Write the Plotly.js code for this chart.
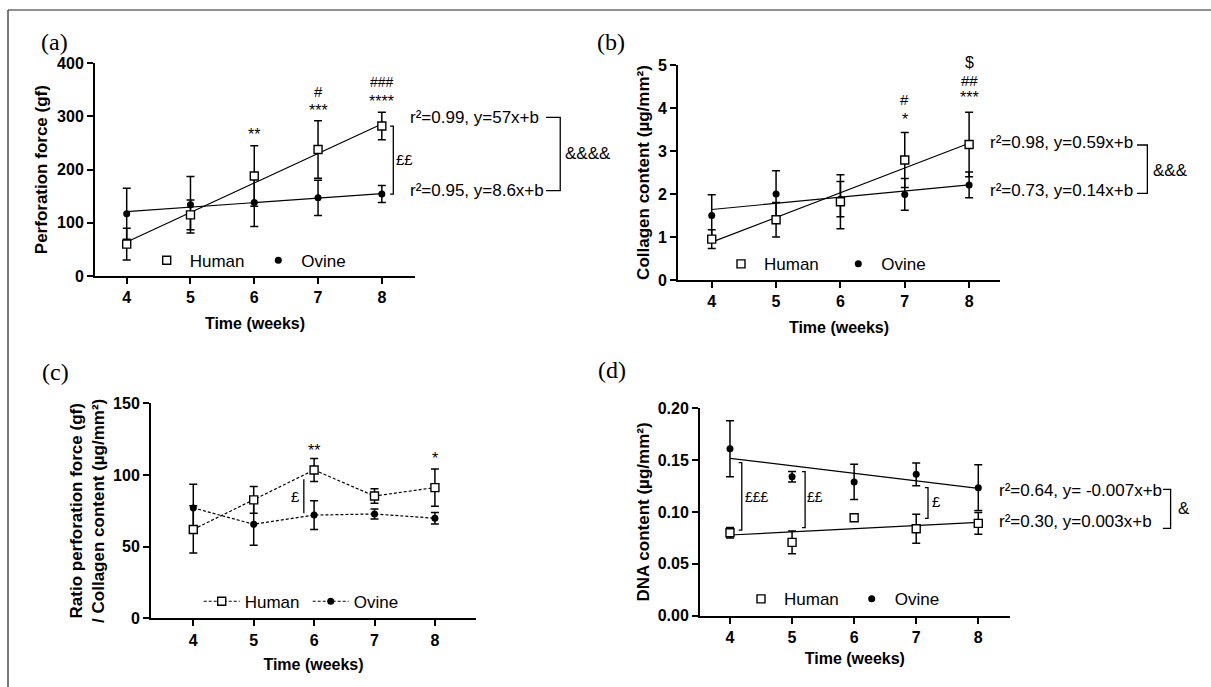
<!DOCTYPE html>
<html><head><meta charset="utf-8">
<script src="https://cdn.plot.ly/plotly-3.0.1.min.js"></script>
<style>html,body{margin:0;padding:0;background:#fff;} #chart{width:1211px;height:687px;}</style>
</head><body><div id="chart"></div>
<script>
// ---------------- data ----------------
const weeks = [4, 5, 6, 7, 8];
const fitX = [4, 8];
const seriesNames = ['Human', 'Ovine'];
const xTitle = 'Time (weeks)';

// (a) Perforation force (gf)
const forceHuman = [60, 115, 188, 238, 282];
const forceHumanErr = [30, 28, 57, 54, 26];
const forceOvine = [117, 134, 138, 147, 154];
const forceOvineErr = [48, 53, 45, 33, 16];
const forceFitHuman = [64, 286];
const forceFitOvine = [121, 155];

// (b) Collagen content (µg/mm²)
const collHuman = [0.95, 1.40, 1.82, 2.79, 3.15];
const collHumanErr = [0.22, 0.40, 0.63, 0.64, 0.75];
const collOvine = [1.50, 2.00, 1.88, 1.99, 2.21];
const collOvineErr = [0.48, 0.54, 0.41, 0.37, 0.30];
const collFitHuman = [0.88, 3.18];
const collFitOvine = [1.64, 2.21];

// (c) Ratio perforation force / collagen content
const ratioHuman = [62, 82.6, 103.5, 85.3, 91.2];
const ratioHumanErr = [16.5, 9.3, 8, 5, 13];
const ratioOvine = [77, 65.6, 72, 72.8, 69.8];
const ratioOvineErr = [16.5, 14.7, 10, 3.5, 4];

// (d) DNA content (µg/mm²)
const dnaHuman = [0.080, 0.0707, 0.0945, 0.0839, 0.089];
const dnaHumanErr = [0.005, 0.011, 0.002, 0.014, 0.0105];
const dnaOvine = [0.161, 0.134, 0.129, 0.1363, 0.1235];
const dnaOvineErr = [0.027, 0.005, 0.017, 0.011, 0.022];
const dnaFitHuman = [0.0778, 0.090];
const dnaFitOvine = [0.1518, 0.1228];

// ---------------- layout helpers ----------------
const W = 1211, H = 687;
const FONT = 'Liberation Sans, Arial, sans-serif';
const SERIF = 'Liberation Serif, Times New Roman, serif';
const P = {
  a: {n:'',  px:[95,415],    py:[63.3,276],   xr:[3.503,8.52], yr:[0,400], xs:13, ys:5},
  b: {n:'2', px:[678,1000],  py:[65,280],     xr:[3.476,8.48], yr:[0,5],   xs:13, ys:4},
  c: {n:'3', px:[151,476],   py:[403.3,618.3],xr:[3.30,8.68],  yr:[0,150], xs:11, ys:4},
  d: {n:'4', px:[700,1009.7],py:[408.3,615.7],xr:[3.517,8.506],yr:[0,0.2], xs:8,  ys:4}
};
function dxf(p, v){ const r = P[p].xr; return (v - r[0]) / (r[1] - r[0]); }
function dyf(p, v){ const r = P[p].yr; return (v - r[0]) / (r[1] - r[0]); }
function paperX(p, v){ const c = P[p]; return (c.px[0] + dxf(p, v) * (c.px[1] - c.px[0])) / W; }
function paperY(p, v){ const c = P[p]; return 1 - (c.py[1] - dyf(p, v) * (c.py[1] - c.py[0])) / H; }

const traces = [];
function fitTrace(p, y){
  traces.push({x: fitX, y: y, mode:'lines', line:{color:'#000', width:1.2},
    xaxis:'x'+P[p].n, yaxis:'y'+P[p].n, showlegend:false, hoverinfo:'skip'});
}
function seriesTrace(p, y, err, idx, lines){
  const human = idx === 0;
  traces.push({
    x: weeks, y: y, name: seriesNames[idx],
    mode: lines ? 'lines+markers' : 'markers',
    line: {color:'#000', width:1.2, dash:'3px,2px'},
    marker: human ? {symbol:'square', size:8, color:'#fff', line:{color:'#000', width:1.4}}
                  : {symbol:'circle', size:7, color:'#000', line:{color:'#000', width:0}},
    error_y: {type:'data', array: err, visible:true, color:'#000', thickness:1.5, width:4},
    xaxis:'x'+P[p].n, yaxis:'y'+P[p].n,
    legend: 'legend'+P[p].n, legendrank: idx+1, hoverinfo:'x+y'
  });
}

fitTrace('a', forceFitHuman); fitTrace('a', forceFitOvine);
seriesTrace('a', forceOvine, forceOvineErr, 1); seriesTrace('a', forceHuman, forceHumanErr, 0);
fitTrace('b', collFitHuman); fitTrace('b', collFitOvine);
seriesTrace('b', collOvine, collOvineErr, 1); seriesTrace('b', collHuman, collHumanErr, 0);
seriesTrace('c', ratioOvine, ratioOvineErr, 1, true); seriesTrace('c', ratioHuman, ratioHumanErr, 0, true);
fitTrace('d', dnaFitHuman); fitTrace('d', dnaFitOvine);
seriesTrace('d', dnaOvine, dnaOvineErr, 1); seriesTrace('d', dnaHuman, dnaHumanErr, 0);

const layout = {
  width: W, height: H, margin:{l:0,r:0,t:0,b:0},
  paper_bgcolor:'#fff', plot_bgcolor:'rgba(0,0,0,0)',
  font:{family:FONT, color:'#000'},
  showlegend:true, annotations:[], shapes:[]
};

const yTitles = {
  a: 'Perforation force (gf)',
  b: 'Collagen content (µg/mm²)',
  c: 'Ratio perforation force (gf)<br>/ Collagen content (µg/mm²)',
  d: 'DNA content (µg/mm²)'
};
const yTicks = {
  a: {tickvals:[0,100,200,300,400]},
  b: {tickvals:[0,1,2,3,4,5]},
  c: {tickvals:[0,50,100,150]},
  d: {tickvals:[0,0.05,0.10,0.15,0.20], tickformat:'.2f'}
};
const axBase = {showline:true, linewidth:2, linecolor:'#000', ticks:'outside', ticklen:6, tickwidth:2,
  tickcolor:'#000', showgrid:false, zeroline:false, fixedrange:true,
  tickfont:{family:FONT, size:16, color:'#000', weight:'bold'}};

for (const p of ['a','b','c','d']){
  const c = P[p];
  layout['xaxis'+c.n] = Object.assign({}, axBase, {
    domain:[c.px[0]/W, c.px[1]/W], range:c.xr, anchor:'y'+c.n, tickvals: weeks,
    title:{text:xTitle, font:{family:FONT, size:16, color:'#000', weight:'bold'}, standoff:c.xs}
  });
  layout['yaxis'+c.n] = Object.assign({}, axBase, yTicks[p], {
    domain:[1 - c.py[1]/H, 1 - c.py[0]/H], range:c.yr, anchor:'x'+c.n,
    title:{text:yTitles[p], font:{family:FONT, size:17, color:'#000', weight:'bold'}, standoff:c.ys}
  });
}

// legends (marker centre px, row centre px, entry width)
const legPos = {a:[166.7,260.7,60.6], b:[741,264.3,66.3], c:[221.7,601.7,58], d:[761,599.3,59.7]};
for (const p of ['a','b','c','d']){
  const lp = legPos[p];
  layout['legend'+P[p].n] = {x:(lp[0]-23)/W, y:1-lp[1]/H, xanchor:'left', yanchor:'middle',
    orientation:'h', itemwidth:36, entrywidth:lp[2], entrywidthmode:'pixels', bgcolor:'rgba(0,0,0,0)',
    font:{family:FONT, size:17, color:'#000'}, itemclick:false, itemdoubleclick:false};
}

function ann(p, x, y, text, size, extra){
  layout.annotations.push(Object.assign({xref:'paper', yref:'paper', x:paperX(p, x), y:paperY(p, y), text:text,
    showarrow:false, xanchor:'center', yanchor:'middle', font:{family:FONT, size:size, color:'#000'}}, extra||{}));
}
function bracket(p, x, y0, y1, hook){
  const xr = 'x'+P[p].n+' domain', yr = 'y'+P[p].n+' domain';
  const X = dxf(p, x), Y0 = dyf(p, y0), Y1 = dyf(p, y1);
  let path;
  if (hook){ const Xh = dxf(p, x - hook); path = `M${Xh},${Y0} L${X},${Y0} L${X},${Y1} L${Xh},${Y1}`; }
  else path = `M${X},${Y0} L${X},${Y1}`;
  layout.shapes.push({type:'path', xref:xr, yref:yr, path:path, line:{color:'#000', width:1.3}});
}

// significance marks
ann('a',6,272.7,'**',16,{yshift:-4}); ann('a',7,318.5,'***',16,{yshift:-4}); ann('a',7,346.7,'#',15);
ann('a',8,335,'****',16,{yshift:-4}); ann('a',8,364,'###',14);
ann('b',7,3.82,'*',16,{yshift:-4}); ann('b',7,4.19,'#',15); ann('b',8,4.34,'***',16,{yshift:-4});
ann('b',8,4.63,'##',15); ann('b',8,5.06,'$',16);
ann('c',6,120.2,'**',16,{yshift:-4}); ann('c',8,114.4,'*',16,{yshift:-4});

// £ brackets
bracket('a', 8.18, 282, 154, 0.05); ann('a', 8.36, 219, '££', 15);
bracket('c', 5.83, 97, 73.3, 0); ann('c', 5.70, 85.3, '£', 15);
bracket('d', 4.19, 0.1476, 0.0826, 0.05); ann('d', 4.44, 0.1148, '£££', 14);
bracket('d', 5.21, 0.1389, 0.0849, 0.05); ann('d', 5.37, 0.1148, '££', 14);
bracket('d', 7.19, 0.1235, 0.0939, 0.05); ann('d', 7.33, 0.1106, '£', 15);

// regression texts
ann('a', 8.41, 298.4, 'r²=0.99, y=57x+b', 17, {xanchor:'left'});
ann('a', 8.41, 160.4, 'r²=0.95, y=8.6x+b', 17, {xanchor:'left'});
bracket('a', 10.797, 298.4, 160.4, 0.224); ann('a', 10.84, 230.7, '&&&&', 17, {xanchor:'left'});
ann('b', 8.295, 3.193, 'r²=0.98, y=0.59x+b', 17, {xanchor:'left'});
ann('b', 8.295, 2.07, 'r²=0.73, y=0.14x+b', 17, {xanchor:'left'});
bracket('b', 10.77, 3.14, 2.016, 0.16); ann('b', 10.83, 2.558, '&&&', 17, {xanchor:'left'});
ann('d', 8.296, 0.1212, 'r²=0.64, y= -0.007x+b', 17, {xanchor:'left'});
ann('d', 8.296, 0.0906, 'r²=0.30, y=0.003x+b', 17, {xanchor:'left'});
bracket('d', 11.098, 0.1219, 0.0843, 0.124); ann('d', 11.19, 0.1036, '&', 17, {xanchor:'left'});

// panel labels
const panelLabels = [['(a)',54,42],['(b)',611,42],['(c)',55,372],['(d)',612,370]];
for (const [t,x,y] of panelLabels){
  layout.annotations.push({xref:'paper', yref:'paper', x:x/W, y:1-y/H, text:t, showarrow:false,
    xanchor:'center', yanchor:'middle', font:{family:SERIF, size:24, color:'#000'}});
}
// figure frame
layout.shapes.push({type:'line', xref:'paper', yref:'paper', x0:8/W, x1:8/W, y0:0, y1:1-10/H, line:{color:'#222', width:1.2}});
layout.shapes.push({type:'line', xref:'paper', yref:'paper', x0:8/W, x1:1, y0:1-10/H, y1:1-10/H, line:{color:'#222', width:1.2}});

Plotly.newPlot('chart', traces, layout, {displayModeBar:false, staticPlot:true});
</script></body></html>
